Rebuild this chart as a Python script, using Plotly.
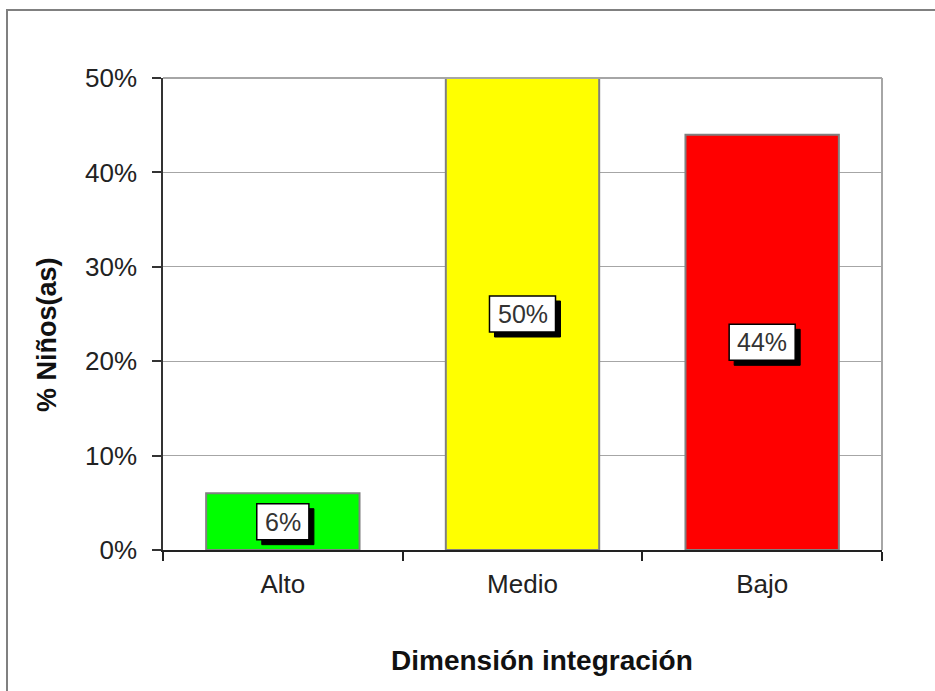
import plotly.graph_objects as go

# Data
categories = ["Alto", "Medio", "Bajo"]
values = [0.06, 0.50, 0.44]
bar_colors = ["#00FF00", "#FFFF00", "#FF0000"]
y_title = "% Niños(as)"
x_title = "Dimensión integración"

FONT = "Liberation Sans, Arial, sans-serif"
W, H = 935, 691
L, R, T, B = 163, 53, 78, 141
LABEL_SIZE = 25

# pixel -> paper coordinate helpers
px_x = lambda p: (p - L) / (W - L - R)
px_y = lambda p: (H - B - p) / (H - T - B)

fig = go.Figure()
fig.add_trace(go.Bar(
    x=categories,
    y=values,
    marker=dict(color=bar_colors, line=dict(color="#808080", width=2)),
    hoverinfo="skip",
))


def text_width(s, size):
    # approximate Arial advance widths
    return sum((0.889 if c == "%" else 0.556) for c in s) * size


# Value labels: white boxes with a black drop shadow, centred in each bar
for i, v in enumerate(values):
    txt = f"{v:.0%}"
    hw = text_width(txt, LABEL_SIZE) / 2 + 8
    hh = 18
    box = dict(type="rect", xref="x", yref="y", xsizemode="pixel", ysizemode="pixel",
               xanchor=i, yanchor=v / 2)
    fig.add_shape(**box, x0=-hw + 5, x1=hw + 5, y0=-hh - 5, y1=hh - 5,
                  fillcolor="#000000", line=dict(color="#000000", width=1))
    fig.add_shape(**box, x0=-hw, x1=hw, y0=-hh, y1=hh,
                  fillcolor="#FFFFFF", line=dict(color="#000000", width=1.5))
    fig.add_annotation(x=i, y=v / 2, xref="x", yref="y", text=txt, showarrow=False,
                       font=dict(family=FONT, size=LABEL_SIZE, color="#333333"))

# Outer chart frame (extends past the page edges on the right and bottom)
fig.add_shape(type="rect", xref="paper", yref="paper",
              x0=px_x(7), x1=px_x(W + 20), y0=px_y(H + 20), y1=px_y(10),
              line=dict(color="#808080", width=2), layer="below")
# Plot-area top and right border
fig.add_shape(type="line", xref="paper", yref="paper", x0=0, x1=1, y0=1, y1=1,
              line=dict(color="#a6a6a6", width=2))
fig.add_shape(type="line", xref="paper", yref="paper", x0=1, x1=1, y0=0, y1=1,
              line=dict(color="#a6a6a6", width=2))

# Axis titles
title_font = dict(family=FONT, size=28, color="#111111", weight="bold")
fig.add_annotation(xref="paper", yref="paper", x=px_x(542), y=px_y(660),
                   text=x_title, showarrow=False, font=title_font,
                   xanchor="center", yanchor="middle")
fig.add_annotation(xref="paper", yref="paper", x=px_x(47), y=px_y(335),
                   text=y_title, showarrow=False, textangle=-90,
                   font=dict(title_font, size=27), xanchor="center", yanchor="middle")

fig.update_layout(
    width=W, height=H,
    margin=dict(l=L, r=R, t=T, b=B),
    paper_bgcolor="white", plot_bgcolor="white",
    bargap=0.36,
    showlegend=False,
    font=dict(family=FONT, size=26, color="#222222"),
)
fig.update_yaxes(
    range=[0, 0.5], dtick=0.1, tickformat=".0%",
    showgrid=True, gridcolor="#a6a6a6", gridwidth=1.3,
    showline=True, linecolor="#333333", linewidth=1.5,
    ticks="outside", ticklen=9, tickcolor="#333333", tickwidth=1.5,
    ticklabelstandoff=10,
    zeroline=False,
)
fig.update_xaxes(
    showline=True, linecolor="#222222", linewidth=1.5,
    ticks="outside", ticklen=9, tickcolor="#222222", tickwidth=1.5,
    tickson="boundaries", ticklabelstandoff=10,
)

fig.write_html("out.html")
